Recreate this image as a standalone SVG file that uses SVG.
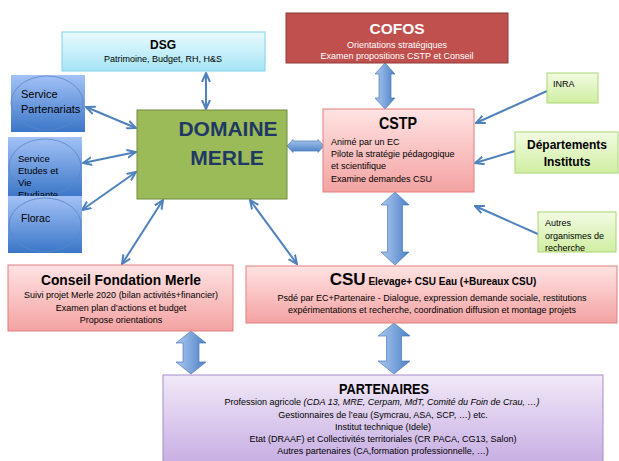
<svg xmlns="http://www.w3.org/2000/svg" width="619" height="461" viewBox="0 0 619 461">
<defs>
<linearGradient id="gPink" x1="0" y1="0" x2="0" y2="1"><stop offset="0" stop-color="#ffe3e3"/><stop offset="1" stop-color="#f4a2a2"/></linearGradient>
<linearGradient id="gCyan" x1="0" y1="0" x2="0" y2="1"><stop offset="0" stop-color="#e8fafe"/><stop offset="1" stop-color="#a6e5f6"/></linearGradient>
<linearGradient id="gLime" x1="0" y1="0" x2="0" y2="1"><stop offset="0" stop-color="#f2fbe2"/><stop offset="1" stop-color="#d0eea2"/></linearGradient>
<linearGradient id="gBlue" x1="0" y1="0" x2="0" y2="1"><stop offset="0" stop-color="#a3c2f6"/><stop offset="1" stop-color="#3b76c8"/></linearGradient>
<linearGradient id="gLav" x1="0" y1="0" x2="0" y2="1"><stop offset="0" stop-color="#f1e9f8"/><stop offset="1" stop-color="#c6ade2"/></linearGradient>
<linearGradient id="gArrV" x1="0" y1="0" x2="1" y2="0"><stop offset="0" stop-color="#a9c6ee"/><stop offset="0.5" stop-color="#7ea6dc"/><stop offset="1" stop-color="#4a7fc4"/></linearGradient>
<linearGradient id="gArrH" x1="0" y1="0" x2="0" y2="1"><stop offset="0" stop-color="#a9c6ee"/><stop offset="1" stop-color="#4a7fc4"/></linearGradient>
<marker id="ah" viewBox="0 0 10 10" refX="9" refY="5" markerWidth="5" markerHeight="5" orient="auto-start-reverse" markerUnits="strokeWidth">
<path d="M0,1 L9,5 L0,9" fill="none" stroke="#4f81bd" stroke-width="2"/>
</marker>
</defs>
<style>
text{font-family:"Liberation Sans",Arial,sans-serif;fill:#000}
.t{font-size:9px}
.c{text-anchor:middle}
.b{font-weight:bold}
.w{fill:#fff}
.conn{fill:none;stroke:#4f81bd;stroke-width:2}
.blk{stroke:#4a7ab8;stroke-width:0.7}
</style>

<g id="connectors">
<line class="conn" x1="206" y1="73" x2="206" y2="109" marker-start="url(#ah)" marker-end="url(#ah)"/>
<line class="conn" x1="86" y1="107" x2="136" y2="128" marker-start="url(#ah)" marker-end="url(#ah)"/>
<line class="conn" x1="83" y1="163" x2="136" y2="152" marker-start="url(#ah)" marker-end="url(#ah)"/>
<line class="conn" x1="82" y1="210" x2="136" y2="172" marker-start="url(#ah)" marker-end="url(#ah)"/>
<line class="conn" x1="163" y1="200" x2="122" y2="264" marker-start="url(#ah)" marker-end="url(#ah)"/>
<line class="conn" x1="250" y1="200" x2="297" y2="264" marker-start="url(#ah)" marker-end="url(#ah)"/>
<line class="conn" x1="547" y1="91" x2="476" y2="123" marker-end="url(#ah)"/>
<line class="conn" x1="515" y1="151" x2="475" y2="163" marker-end="url(#ah)"/>
<line class="conn" x1="540" y1="235" x2="475" y2="206" marker-end="url(#ah)"/>
<path class="blk" fill="url(#gArrH)" d="M287,146 L293,139.5 L293,141 L318,141 L318,139.5 L324,146 L318,152.5 L318,151 L293,151 L293,152.5 Z"/>
<path class="blk" fill="url(#gArrV)" d="M385,63 L395,74 L391,74 L391,98 L395,98 L385,109 L375,98 L379,98 L379,74 L375,74 Z"/>
<path class="blk" fill="url(#gArrV)" d="M395,192 L409,205 L402.5,205 L402.5,252 L409,252 L395,265 L381,252 L387.5,252 L387.5,205 L381,205 Z"/>
<path class="blk" fill="url(#gArrV)" d="M191,331 L206,343 L199,343 L199,362 L206,362 L191,374 L176,362 L183,362 L183,343 L176,343 Z"/>
<path class="blk" fill="url(#gArrV)" d="M394,323 L410,336 L401.5,336 L401.5,361 L410,361 L394,374 L378,361 L386.5,361 L386.5,336 L378,336 Z"/>
</g>

<g id="dsg">
<rect x="62" y="32" width="203" height="39" fill="url(#gCyan)" stroke="#7fd2e8" stroke-width="1"/>
<text class="c b" x="163" y="49" font-size="12">DSG</text>
<text class="t c" x="163" y="62" font-size="9.5">Patrimoine, Budget, RH, H&amp;S</text>
</g>

<g id="cofos">
<rect x="286" y="13" width="222" height="50" fill="#c0504d" stroke="#8e3a38" stroke-width="1"/>
<text class="c b w" x="397" y="34" font-size="15.5" textLength="55" lengthAdjust="spacingAndGlyphs">COFOS</text>
<text class="t c w" x="397" y="48" font-size="8.5">Orientations stratégiques</text>
<text class="t c w" x="397" y="59" font-size="8.5">Examen propositions CSTP et Conseil</text>
</g>

<g id="service-partenariats">
<rect x="11" y="75" width="74" height="57" fill="url(#gBlue)"/>
<ellipse cx="47" cy="103" rx="36" ry="27" fill="none" stroke="#5b86c5" stroke-width="0.8"/>
<text x="21" y="98" font-size="11">Service</text>
<text x="21" y="113" font-size="11">Partenariats</text>
</g>

<g id="service-etudes">
<rect x="8" y="137" width="74" height="60" fill="url(#gBlue)"/>
<ellipse cx="45" cy="167" rx="36" ry="28" fill="none" stroke="#5b86c5" stroke-width="0.8"/>
<text x="18" y="162" font-size="9.5">Service</text>
<text x="18" y="174" font-size="9.5">Etudes et</text>
<text x="18" y="186" font-size="9.5">Vie</text>
<text x="18" y="198" font-size="9.5">Etudiante</text>
</g>

<g id="florac">
<rect x="8" y="196" width="74" height="57" fill="url(#gBlue)"/>
<ellipse cx="45" cy="225" rx="36" ry="27" fill="none" stroke="#5b86c5" stroke-width="0.8"/>
<text x="21" y="222" font-size="10.5">Florac</text>
</g>

<g id="domaine-merle">
<rect x="137" y="110" width="150" height="89" fill="#9bbb59" stroke="#71893f" stroke-width="1"/>
<text class="c b" x="228" y="136" font-size="21" style="fill:#1f3864">DOMAINE</text>
<text class="c b" x="227" y="165" font-size="21" style="fill:#1f3864">MERLE</text>
</g>

<g id="cstp">
<rect x="323" y="109" width="151" height="83" fill="url(#gPink)" stroke="#e17e7e" stroke-width="1"/>
<text class="c b" x="398" y="129" font-size="16.5" textLength="38" lengthAdjust="spacingAndGlyphs">CSTP</text>
<text class="t" x="331" y="145" font-size="9.5">Animé par un EC</text>
<text class="t" x="331" y="157" font-size="9.5">Pilote la stratégie pédagogique</text>
<text class="t" x="331" y="169" font-size="9.5">et scientifique</text>
<text class="t" x="331" y="182" font-size="9.5">Examine demandes CSU</text>
</g>

<g id="inra">
<rect x="547" y="73" width="51" height="30" fill="url(#gLime)" stroke="#a8d574" stroke-width="1"/>
<text x="553" y="87" font-size="9">INRA</text>
</g>

<g id="departements">
<rect x="515" y="132" width="103" height="41" fill="url(#gLime)" stroke="#a8d574" stroke-width="1"/>
<text class="c b" x="567" y="149" font-size="12">Départements</text>
<text class="c b" x="567" y="166" font-size="12">Instituts</text>
</g>

<g id="autres">
<rect x="538" y="212" width="78" height="40" fill="url(#gLime)" stroke="#a8d574" stroke-width="1"/>
<text x="545" y="226" font-size="9">Autres</text>
<text x="545" y="239" font-size="9">organismes de</text>
<text x="545" y="251" font-size="9">recherche</text>
</g>

<g id="conseil">
<rect x="8" y="265" width="225" height="66" fill="url(#gPink)" stroke="#e17e7e" stroke-width="1"/>
<text class="c b" x="121" y="285" font-size="14.5" textLength="160" lengthAdjust="spacingAndGlyphs">Conseil Fondation Merle</text>
<text class="t c" x="121" y="298" font-size="9.5">Suivi projet Merle 2020 (bilan activités+financier)</text>
<text class="t c" x="121" y="311" font-size="9.5">Examen plan d’actions et budget</text>
<text class="t c" x="121" y="323" font-size="9.5">Propose orientations</text>
</g>

<g id="csu">
<rect x="246" y="266" width="371" height="57" fill="url(#gPink)" stroke="#e17e7e" stroke-width="1"/>
<text class="c b" x="433" y="285"><tspan font-size="17">CSU</tspan><tspan font-size="10"> Elevage+ CSU Eau (+Bureaux CSU)</tspan></text>
<text class="t c" x="432" y="301" font-size="9.2">Psdé par EC+Partenaire - Dialogue, expression demande sociale, restitutions</text>
<text class="t c" x="432" y="313" font-size="9.2">expérimentations et recherche, coordination diffusion et montage projets</text>
</g>

<g id="partenaires">
<rect x="163" y="375" width="440" height="90" fill="url(#gLav)" stroke="#a88ccb" stroke-width="1"/>
<text class="c b" x="384" y="394" font-size="14.5" textLength="90" lengthAdjust="spacingAndGlyphs">PARTENAIRES</text>
<text class="t c" x="382" y="405" font-size="9.3">Profession agricole <tspan font-style="italic">(CDA 13, MRE, Cerpam, MdT,  Comité du Foin de Crau, …)</tspan></text>
<text class="t c" x="383" y="418">Gestionnaires de l’eau (Symcrau, ASA, SCP, …) etc.</text>
<text class="t c" x="383" y="430">Institut technique (Idele)</text>
<text class="t c" x="383" y="442">Etat (DRAAF) et Collectivités territoriales (CR PACA, CG13, Salon)</text>
<text class="t c" x="383" y="454">Autres partenaires (CA,formation professionnelle, …)</text>
</g>
</svg>
